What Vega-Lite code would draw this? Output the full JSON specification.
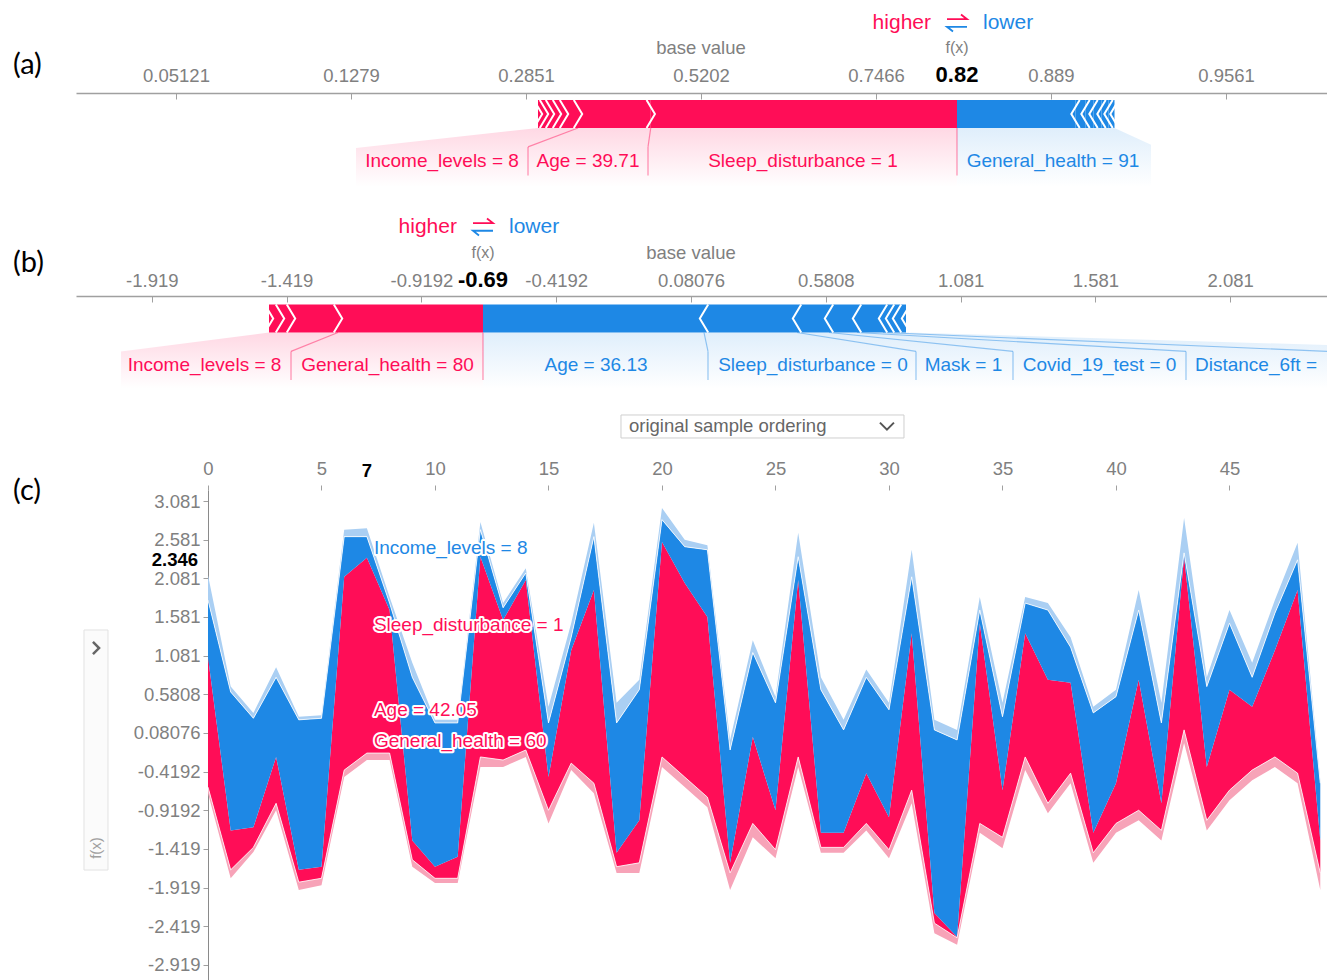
{
"$schema": "https://vega.github.io/schema/vega-lite/v6.json",
"background": "white",
"padding": {"left": 12, "top": 0, "right": 0, "bottom": 0},
"autosize": {"type": "pad"},
"bounds": "flush",
"spacing": 10,
"config": {
  "view": {"stroke": null},
  "font": "Liberation Sans",
  "axis": {"labelFont": "Liberation Sans", "labelColor": "#808080", "labelFontSize": 18.5, "domainColor": "#a0a0a0", "tickColor": "#a0a0a0", "grid": false}
},
"datasets": {
  "featA": [
    {"feature": "Sleep_disturbance = 1", "effect": "higher", "start": -0.2064, "end": 1.5436, "lx": 0.6636},
    {"feature": "Age = 39.71", "effect": "higher", "start": -0.6221, "end": -0.2064, "lx": -0.565},
    {"feature": "Income_levels = 8", "effect": "higher", "start": -0.7021, "end": -0.6221, "lx": -1.3993},
    {"feature": "other", "effect": "higher", "start": -0.7421, "end": -0.7021},
    {"feature": "other", "effect": "higher", "start": -0.7821, "end": -0.7421},
    {"feature": "other", "effect": "higher", "start": -0.8164, "end": -0.7821},
    {"feature": "other", "effect": "higher", "start": -0.8507, "end": -0.8164},
    {"feature": "General_health = 91", "effect": "lower", "start": 1.5436, "end": 2.2208, "lx": 2.0922},
    {"feature": "other", "effect": "lower", "start": 2.2208, "end": 2.2779},
    {"feature": "other", "effect": "lower", "start": 2.2779, "end": 2.3236},
    {"feature": "other", "effect": "lower", "start": 2.3236, "end": 2.3693},
    {"feature": "other", "effect": "lower", "start": 2.3693, "end": 2.4093},
    {"feature": "other", "effect": "lower", "start": 2.4093, "end": 2.4436}
  ],
  "sepA": [
    {"label_edge": -0.9078, "bar_edge": -0.6221, "effect": "higher"},
    {"label_edge": -0.2221, "bar_edge": -0.2064, "effect": "higher"},
    {"label_edge": 1.5436, "bar_edge": 1.5436, "effect": "higher"}
  ],
  "fadeA": [
    {"effect": "higher", "x": -1.8907, "top": -2.43},
    {"effect": "higher", "x": -0.8507, "top": -1},
    {"effect": "higher", "x": 1.5436, "top": -1},
    {"effect": "lower", "x": 1.5436, "top": -1},
    {"effect": "lower", "x": 2.4436, "top": -1},
    {"effect": "lower", "x": 2.6522, "top": -2.2}
  ],
  "sumA": [{"base": 0.08076, "fx": 1.5436, "fx_text": "0.82"}],
  "featB": [
    {"feature": "General_health = 80", "effect": "higher", "start": -1.2285, "end": -0.6908, "lx": -1.045},
    {"feature": "Income_levels = 8", "effect": "higher", "start": -1.4029, "end": -1.2285, "lx": -1.7237},
    {"feature": "other", "effect": "higher", "start": -1.4437, "end": -1.4029},
    {"feature": "other", "effect": "higher", "start": -1.4845, "end": -1.4437},
    {"feature": "Age = 36.13", "effect": "lower", "start": -0.6908, "end": 0.129, "lx": -0.2716},
    {"feature": "Sleep_disturbance = 0", "effect": "lower", "start": 0.129, "end": 0.474, "lx": 0.5333},
    {"feature": "Mask = 1", "effect": "lower", "start": 0.474, "end": 0.5926, "lx": 1.0915},
    {"feature": "Covid_19_test = 0", "effect": "lower", "start": 0.5926, "end": 0.6965, "lx": 1.596},
    {"feature": "Distance_6ft =", "effect": "lower", "start": 0.6965, "end": 0.7929, "lx": 2.1765},
    {"feature": "other", "effect": "lower", "start": 0.7929, "end": 0.8189},
    {"feature": "other", "effect": "lower", "start": 0.8189, "end": 0.8449},
    {"feature": "other", "effect": "lower", "start": 0.8449, "end": 0.8782}
  ],
  "sepB": [
    {"label_edge": -1.4029, "bar_edge": -1.2285, "effect": "higher"},
    {"label_edge": -0.6908, "bar_edge": -0.6908, "effect": "higher"},
    {"label_edge": 0.1438, "bar_edge": 0.129, "effect": "lower"},
    {"label_edge": 0.9153, "bar_edge": 0.474, "effect": "lower"},
    {"label_edge": 1.2751, "bar_edge": 0.5926, "effect": "lower"},
    {"label_edge": 1.9168, "bar_edge": 0.6965, "effect": "lower"},
    {"label_edge": 2.4435, "bar_edge": 0.7929, "effect": "lower"}
  ],
  "fadeB": [
    {"effect": "higher", "x": -2.0335, "top": -2.35},
    {"effect": "higher", "x": -1.4845, "top": -1},
    {"effect": "higher", "x": -0.6908, "top": -1},
    {"effect": "lower", "x": -0.6908, "top": -1},
    {"effect": "lower", "x": 0.8782, "top": -1},
    {"effect": "lower", "x": 2.4435, "top": -1.9}
  ],
  "sumB": [{"base": 0.08076, "fx": -0.6908, "fx_text": "-0.69"}],
  "stackC": [
    {"i":0,"lb":2.12,"b":1.80,"fx":1.06,"r":-0.62,"p":-0.70},
    {"i":1,"lb":0.68,"b":0.61,"fx":-1.18,"r":-1.69,"p":-1.80},
    {"i":2,"lb":0.34,"b":0.27,"fx":-1.14,"r":-1.40,"p":-1.46},
    {"i":3,"lb":0.93,"b":0.80,"fx":-0.23,"r":-0.83,"p":-0.92},
    {"i":4,"lb":0.29,"b":0.25,"fx":-1.69,"r":-1.85,"p":-1.95},
    {"i":5,"lb":0.31,"b":0.27,"fx":-1.65,"r":-1.80,"p":-1.89},
    {"i":6,"lb":2.71,"b":2.62,"fx":2.10,"r":-0.40,"p":-0.49},
    {"i":7,"lb":2.73,"b":2.62,"fx":2.346,"r":-0.18,"p":-0.27},
    {"i":8,"lb":1.84,"b":1.76,"fx":1.67,"r":-0.18,"p":-0.27},
    {"i":9,"lb":0.99,"b":0.80,"fx":-1.31,"r":-1.56,"p":-1.65},
    {"i":10,"lb":0.25,"b":0.21,"fx":-1.65,"r":-1.80,"p":-1.86},
    {"i":11,"lb":0.25,"b":0.21,"fx":-1.52,"r":-1.80,"p":-1.86},
    {"i":12,"lb":2.81,"b":2.71,"fx":2.36,"r":-0.23,"p":-0.36},
    {"i":13,"lb":1.76,"b":1.70,"fx":1.54,"r":-0.27,"p":-0.36},
    {"i":14,"lb":2.21,"b":2.15,"fx":2.06,"r":-0.14,"p":-0.23},
    {"i":15,"lb":0.42,"b":0.21,"fx":-0.49,"r":-0.92,"p":-1.09},
    {"i":16,"lb":1.50,"b":1.32,"fx":1.15,"r":-0.31,"p":-0.40},
    {"i":17,"lb":2.80,"b":2.62,"fx":1.93,"r":-0.57,"p":-0.70},
    {"i":18,"lb":0.47,"b":0.21,"fx":-1.47,"r":-1.65,"p":-1.73},
    {"i":19,"lb":0.77,"b":0.64,"fx":-1.05,"r":-1.60,"p":-1.73},
    {"i":20,"lb":2.99,"b":2.84,"fx":2.55,"r":-0.23,"p":-0.36},
    {"i":21,"lb":2.58,"b":2.49,"fx":2.02,"r":-0.49,"p":-0.62},
    {"i":22,"lb":2.51,"b":2.45,"fx":1.58,"r":-0.75,"p":-0.88},
    {"i":23,"lb":-0.01,"b":-0.14,"fx":-1.60,"r":-1.73,"p":-1.95},
    {"i":24,"lb":1.28,"b":1.12,"fx":0.03,"r":-1.09,"p":-1.27},
    {"i":25,"lb":0.55,"b":0.47,"fx":-0.92,"r":-1.43,"p":-1.54},
    {"i":26,"lb":2.67,"b":2.36,"fx":2.06,"r":-0.23,"p":-0.36},
    {"i":27,"lb":0.80,"b":0.64,"fx":-1.21,"r":-1.40,"p":-1.47},
    {"i":28,"lb":0.25,"b":0.12,"fx":-1.21,"r":-1.40,"p":-1.47},
    {"i":29,"lb":0.90,"b":0.80,"fx":-0.44,"r":-1.09,"p":-1.18},
    {"i":30,"lb":0.47,"b":0.38,"fx":-1.01,"r":-1.43,"p":-1.54},
    {"i":31,"lb":2.45,"b":2.10,"fx":1.37,"r":-0.66,"p":-0.83},
    {"i":32,"lb":0.25,"b":0.12,"fx":-2.25,"r":-2.38,"p":-2.51},
    {"i":33,"lb":0.12,"b":-0.01,"fx":-2.56,"r":-2.57,"p":-2.66},
    {"i":34,"lb":1.84,"b":1.67,"fx":1.50,"r":-1.09,"p":-1.21},
    {"i":35,"lb":0.47,"b":0.29,"fx":-0.66,"r":-1.27,"p":-1.41},
    {"i":36,"lb":1.84,"b":1.76,"fx":1.37,"r":-0.23,"p":-0.40},
    {"i":37,"lb":1.76,"b":1.67,"fx":0.77,"r":-0.83,"p":-0.96},
    {"i":38,"lb":1.32,"b":1.19,"fx":0.73,"r":-0.44,"p":-0.57},
    {"i":39,"lb":0.42,"b":0.34,"fx":-1.21,"r":-1.47,"p":-1.60},
    {"i":40,"lb":0.64,"b":0.55,"fx":-0.57,"r":-1.09,"p":-1.21},
    {"i":41,"lb":1.93,"b":1.67,"fx":0.77,"r":-0.92,"p":-1.05},
    {"i":42,"lb":0.47,"b":0.21,"fx":-0.83,"r":-1.18,"p":-1.31},
    {"i":43,"lb":2.86,"b":2.41,"fx":2.36,"r":0.12,"p":-0.05},
    {"i":44,"lb":0.80,"b":0.68,"fx":-0.36,"r":-1.05,"p":-1.18},
    {"i":45,"lb":1.67,"b":1.50,"fx":0.64,"r":-0.66,"p":-0.79},
    {"i":46,"lb":0.99,"b":0.80,"fx":0.42,"r":-0.40,"p":-0.53},
    {"i":47,"lb":1.80,"b":1.63,"fx":1.15,"r":-0.23,"p":-0.36},
    {"i":48,"lb":2.54,"b":2.32,"fx":1.93,"r":-0.44,"p":-0.57},
    {"i":49,"lb":-0.53,"b":-0.57,"fx":-1.31,"r":-1.73,"p":-1.95}
  ],
  "hoverC": [
    {"i": 7, "label": "Income_levels = 8", "y": 2.473, "effect": "lower"},
    {"i": 7, "label": "Sleep_disturbance = 1", "y": 1.477, "effect": "higher"},
    {"i": 7, "label": "Age = 42.05", "y": 0.377, "effect": "higher"},
    {"i": 7, "label": "General_health = 60", "y": -0.024, "effect": "higher"}
  ],
  "sumC": [{"i": 7, "fx": 2.346, "fx_text": "2.346"}]
},
"vconcat": [
  {
    "width": 1252, "height": 190,
    "resolve": {"axis": {"x": "independent", "y": "independent"}},
    "layer": [
      {"data": {"name": "fadeA"}, "transform": [{"filter": "datum.effect == 'higher'"}],
       "mark": {"type": "area", "color": {"gradient": "linear", "x1": 0, "y1": 0, "x2": 0, "y2": 1, "stops": [{"offset": 0, "color": "rgba(255,13,87,0.16)"}, {"offset": 1, "color": "rgba(255,13,87,0)"}]}},
       "encoding": {
         "x": {"field": "x", "type": "quantitative", "scale": {"domain": [-3.4907, 3.6636], "nice": false, "zero": false},
               "axis": {"orient": "top", "offset": -93, "title": null, "values": [-2.91924, -1.91924, -0.91924, 0.08076, 1.08076, 2.08076, 3.08076], "labelExpr": "format(1/(1+exp(-datum.value)), '.4~')", "tickSize": -6, "labelPadding": 14, "domainWidth": 1.5}},
         "y": {"field": "top", "type": "quantitative", "scale": {"domain": [-5.4286, 8.1429], "nice": false, "zero": false}, "axis": null},
         "y2": {"datum": -5.2}}},
      {"data": {"name": "fadeA"}, "transform": [{"filter": "datum.effect == 'lower'"}],
       "mark": {"type": "area", "color": {"gradient": "linear", "x1": 0, "y1": 0, "x2": 0, "y2": 1, "stops": [{"offset": 0, "color": "rgba(30,136,229,0.14)"}, {"offset": 1, "color": "rgba(30,136,229,0)"}]}},
       "encoding": {"x": {"field": "x", "type": "quantitative", "axis": null}, "y": {"field": "top", "type": "quantitative", "axis": null}, "y2": {"datum": -5.2}}},
      {"data": {"name": "sepA"}, "mark": {"type": "rule", "strokeWidth": 1.2, "opacity": 0.45},
       "encoding": {"x": {"field": "label_edge", "type": "quantitative", "axis": null}, "y": {"datum": -2.35, "axis": null}, "y2": {"datum": -4.4},
         "color": {"condition": {"test": "datum.effect == 'higher'", "value": "#ff0d57"}, "value": "#1e88e5"}}},
      {"data": {"name": "sepA"}, "mark": {"type": "rule", "strokeWidth": 1.2, "opacity": 0.45},
       "encoding": {"x": {"field": "label_edge", "type": "quantitative", "axis": null}, "x2": {"field": "bar_edge"}, "y": {"datum": -2.35, "axis": null}, "y2": {"datum": -1},
         "color": {"condition": {"test": "datum.effect == 'higher'", "value": "#ff0d57"}, "value": "#1e88e5"}}},
      {"data": {"name": "featA"}, "mark": {"type": "rect"},
       "encoding": {"x": {"field": "start", "type": "quantitative", "axis": null}, "x2": {"field": "end"}, "y": {"datum": 1, "axis": null}, "y2": {"datum": -1},
         "color": {"condition": {"test": "datum.effect == 'higher'", "value": "#ff0d57"}, "value": "#1e88e5"}}},
      {"data": {"name": "featA"}, "transform": [{"filter": "datum.effect == 'higher'"}],
       "mark": {"type": "point", "shape": "M-0.3,-1L0.3,0L-0.3,1", "size": 784, "filled": false, "color": "white", "strokeWidth": 2, "opacity": 1},
       "encoding": {"x": {"field": "start", "type": "quantitative", "axis": null}, "y": {"datum": 0, "axis": null}}},
      {"data": {"name": "featA"}, "transform": [{"filter": "datum.effect == 'lower'"}],
       "mark": {"type": "point", "shape": "M0.3,-1L-0.3,0L0.3,1", "size": 784, "filled": false, "color": "white", "strokeWidth": 2, "opacity": 1},
       "encoding": {"x": {"field": "end", "type": "quantitative", "axis": null}, "y": {"datum": 0, "axis": null}}},
      {"data": {"name": "featA"}, "transform": [{"filter": "datum.lx != null"}],
       "mark": {"type": "text", "fontSize": 19},
       "encoding": {"x": {"field": "lx", "type": "quantitative", "axis": null}, "y": {"datum": -3.36, "axis": null}, "text": {"field": "feature"},
         "color": {"condition": {"test": "datum.effect == 'higher'", "value": "#ff0d57"}, "value": "#1e88e5"}}},
      {"data": {"name": "sumA"}, "mark": {"type": "text", "fontSize": 18.5, "color": "#808080"},
       "encoding": {"x": {"field": "base", "type": "quantitative", "axis": null}, "y": {"datum": 4.71, "axis": null}, "text": {"value": "base value"}}},
      {"data": {"name": "sumA"}, "mark": {"type": "text", "fontSize": 16, "color": "#808080"},
       "encoding": {"x": {"field": "fx", "type": "quantitative", "axis": null}, "y": {"datum": 4.71, "axis": null}, "text": {"value": "f(x)"}}},
      {"data": {"name": "sumA"}, "mark": {"type": "text", "fontSize": 22, "fontWeight": "bold", "color": "#000000"},
       "encoding": {"x": {"field": "fx", "type": "quantitative", "axis": null}, "y": {"datum": 2.79, "axis": null}, "text": {"field": "fx_text"}}},
      {"data": {"name": "sumA"}, "mark": {"type": "text", "fontSize": 21, "color": "#ff0d57", "align": "right", "dx": -26},
       "encoding": {"x": {"field": "fx", "type": "quantitative", "axis": null}, "y": {"datum": 6.5, "axis": null}, "text": {"value": "higher"}}},
      {"data": {"name": "sumA"}, "mark": {"type": "text", "fontSize": 21, "color": "#1e88e5", "align": "left", "dx": 26},
       "encoding": {"x": {"field": "fx", "type": "quantitative", "axis": null}, "y": {"datum": 6.5, "axis": null}, "text": {"value": "lower"}}},
      {"data": {"name": "sumA"}, "mark": {"type": "point", "shape": "M-1,-0.38L1,-0.38L0.4,-0.85", "size": 400, "filled": false, "color": "#ff0d57", "strokeWidth": 1.8, "opacity": 1},
       "encoding": {"x": {"field": "fx", "type": "quantitative", "axis": null}, "y": {"datum": 6.5, "axis": null}}},
      {"data": {"name": "sumA"}, "mark": {"type": "point", "shape": "M1,0.38L-1,0.38L-0.4,0.85", "size": 400, "filled": false, "color": "#1e88e5", "strokeWidth": 1.8, "opacity": 1},
       "encoding": {"x": {"field": "fx", "type": "quantitative", "axis": null}, "y": {"datum": 6.5, "axis": null}}},
      {"data": {"values": [{"panel": "(a)"}]}, "mark": {"type": "text", "font": "Lato", "fontSize": 29, "align": "left", "color": "#000000"},
       "encoding": {"x": {"datum": -3.8507, "axis": null}, "y": {"datum": 3.5, "axis": null}, "text": {"field": "panel"}}}
    ]
  },
  {
    "width": 1252, "height": 280,
    "resolve": {"axis": {"x": "independent", "y": "independent"}},
    "layer": [
      {"data": {"name": "fadeB"}, "transform": [{"filter": "datum.effect == 'higher'"}],
       "mark": {"type": "area", "color": {"gradient": "linear", "x1": 0, "y1": 0, "x2": 0, "y2": 1, "stops": [{"offset": 0, "color": "rgba(255,13,87,0.16)"}, {"offset": 1, "color": "rgba(255,13,87,0)"}]}},
       "encoding": {
         "x": {"field": "x", "type": "quantitative", "scale": {"domain": [-2.2004, 2.4435], "nice": false, "zero": false},
               "axis": {"orient": "top", "offset": -96, "title": null, "values": [-1.91924, -1.41924, -0.91924, -0.41924, 0.08076, 0.58076, 1.08076, 1.58076, 2.08076], "labelExpr": "replace(format(datum.value, '.4~'), '\u2212', '-')", "tickSize": -6, "labelPadding": 12, "domainWidth": 1.5}},
         "y": {"field": "top", "type": "quantitative", "scale": {"domain": [-11.5357, 8.4643], "nice": false, "zero": false}, "axis": null},
         "y2": {"datum": -5.0}}},
      {"data": {"name": "fadeB"}, "transform": [{"filter": "datum.effect == 'lower'"}],
       "mark": {"type": "area", "color": {"gradient": "linear", "x1": 0, "y1": 0, "x2": 0, "y2": 1, "stops": [{"offset": 0, "color": "rgba(30,136,229,0.14)"}, {"offset": 1, "color": "rgba(30,136,229,0)"}]}},
       "encoding": {"x": {"field": "x", "type": "quantitative", "axis": null}, "y": {"field": "top", "type": "quantitative", "axis": null}, "y2": {"datum": -5.0}}},
      {"data": {"name": "sepB"}, "mark": {"type": "rule", "strokeWidth": 1.2, "opacity": 0.45},
       "encoding": {"x": {"field": "label_edge", "type": "quantitative", "axis": null}, "y": {"datum": -2.35, "axis": null}, "y2": {"datum": -4.4},
         "color": {"condition": {"test": "datum.effect == 'higher'", "value": "#ff0d57"}, "value": "#1e88e5"}}},
      {"data": {"name": "sepB"}, "mark": {"type": "rule", "strokeWidth": 1.2, "opacity": 0.45},
       "encoding": {"x": {"field": "label_edge", "type": "quantitative", "axis": null}, "x2": {"field": "bar_edge"}, "y": {"datum": -2.35, "axis": null}, "y2": {"datum": -1},
         "color": {"condition": {"test": "datum.effect == 'higher'", "value": "#ff0d57"}, "value": "#1e88e5"}}},
      {"data": {"name": "featB"}, "mark": {"type": "rect"},
       "encoding": {"x": {"field": "start", "type": "quantitative", "axis": null}, "x2": {"field": "end"}, "y": {"datum": 1, "axis": null}, "y2": {"datum": -1},
         "color": {"condition": {"test": "datum.effect == 'higher'", "value": "#ff0d57"}, "value": "#1e88e5"}}},
      {"data": {"name": "featB"}, "transform": [{"filter": "datum.effect == 'higher'"}],
       "mark": {"type": "point", "shape": "M-0.3,-1L0.3,0L-0.3,1", "size": 784, "filled": false, "color": "white", "strokeWidth": 2, "opacity": 1},
       "encoding": {"x": {"field": "start", "type": "quantitative", "axis": null}, "y": {"datum": 0, "axis": null}}},
      {"data": {"name": "featB"}, "transform": [{"filter": "datum.effect == 'lower'"}],
       "mark": {"type": "point", "shape": "M0.3,-1L-0.3,0L0.3,1", "size": 784, "filled": false, "color": "white", "strokeWidth": 2, "opacity": 1},
       "encoding": {"x": {"field": "end", "type": "quantitative", "axis": null}, "y": {"datum": 0, "axis": null}}},
      {"data": {"name": "featB"}, "transform": [{"filter": "datum.lx != null"}],
       "mark": {"type": "text", "fontSize": 19},
       "encoding": {"x": {"field": "lx", "type": "quantitative", "axis": null}, "y": {"datum": -3.32, "axis": null}, "text": {"field": "feature"},
         "color": {"condition": {"test": "datum.effect == 'higher'", "value": "#ff0d57"}, "value": "#1e88e5"}}},
      {"data": {"name": "sumB"}, "mark": {"type": "text", "fontSize": 18.5, "color": "#808080"},
       "encoding": {"x": {"field": "base", "type": "quantitative", "axis": null}, "y": {"datum": 4.68, "axis": null}, "text": {"value": "base value"}}},
      {"data": {"name": "sumB"}, "mark": {"type": "text", "fontSize": 16, "color": "#808080"},
       "encoding": {"x": {"field": "fx", "type": "quantitative", "axis": null}, "y": {"datum": 4.68, "axis": null}, "text": {"value": "f(x)"}}},
      {"data": {"name": "sumB"}, "mark": {"type": "text", "fontSize": 22, "fontWeight": "bold", "color": "#000000"},
       "encoding": {"x": {"field": "fx", "type": "quantitative", "axis": null}, "y": {"datum": 2.75, "axis": null}, "text": {"field": "fx_text"}}},
      {"data": {"name": "sumB"}, "mark": {"type": "text", "fontSize": 21, "color": "#ff0d57", "align": "right", "dx": -26},
       "encoding": {"x": {"field": "fx", "type": "quantitative", "axis": null}, "y": {"datum": 6.54, "axis": null}, "text": {"value": "higher"}}},
      {"data": {"name": "sumB"}, "mark": {"type": "text", "fontSize": 21, "color": "#1e88e5", "align": "left", "dx": 26},
       "encoding": {"x": {"field": "fx", "type": "quantitative", "axis": null}, "y": {"datum": 6.54, "axis": null}, "text": {"value": "lower"}}},
      {"data": {"name": "sumB"}, "mark": {"type": "point", "shape": "M-1,-0.38L1,-0.38L0.4,-0.85", "size": 400, "filled": false, "color": "#ff0d57", "strokeWidth": 1.8, "opacity": 1},
       "encoding": {"x": {"field": "fx", "type": "quantitative", "axis": null}, "y": {"datum": 6.54, "axis": null}}},
      {"data": {"name": "sumB"}, "mark": {"type": "point", "shape": "M1,0.38L-1,0.38L-0.4,0.85", "size": 400, "filled": false, "color": "#1e88e5", "strokeWidth": 1.8, "opacity": 1},
       "encoding": {"x": {"field": "fx", "type": "quantitative", "axis": null}, "y": {"datum": 6.54, "axis": null}}},
      {"data": {"values": [{"panel": "(b)"}]}, "mark": {"type": "text", "font": "Lato", "fontSize": 29, "align": "left", "color": "#000000"},
       "encoding": {"x": {"datum": -2.4341, "axis": null}, "y": {"datum": 3.96, "axis": null}, "text": {"field": "panel"}}}
    ]
  },
  {
    "width": 1252, "height": 490,
    "resolve": {"axis": {"x": "independent", "y": "independent"}},
    "layer": [
      {"data": {"name": "stackC"}, "mark": {"type": "area", "color": "#f7a3b8"},
       "encoding": {
         "x": {"field": "i", "type": "quantitative", "scale": {"domain": [-5.815, 49.34], "nice": false, "zero": false},
               "axis": {"orient": "top", "title": null, "values": [0, 5, 10, 15, 20, 25, 30, 35, 40, 45], "format": "d", "domain": false, "tickSize": 5, "labelPadding": 7}},
         "y": {"field": "p", "type": "quantitative", "scale": {"domain": [-3.1156, 3.2233], "nice": false, "zero": false},
               "axis": {"orient": "left", "offset": -132, "title": null, "values": [3.08076, 2.58076, 2.08076, 1.58076, 1.08076, 0.58076, 0.08076, -0.41924, -0.91924, -1.41924, -1.91924, -2.41924, -2.91924], "labelExpr": "replace(format(datum.value, '.4~'), '\u2212', '-')", "tickSize": 5, "labelPadding": 3, "domainColor": "#8a8a8a"}},
         "y2": {"field": "r"}}},
      {"data": {"name": "stackC"}, "mark": {"type": "area", "color": "#ff0d57"},
       "encoding": {"x": {"field": "i", "type": "quantitative", "axis": null}, "y": {"field": "r", "type": "quantitative", "axis": null}, "y2": {"field": "fx"}}},
      {"data": {"name": "stackC"}, "mark": {"type": "area", "color": "#1e88e5"},
       "encoding": {"x": {"field": "i", "type": "quantitative", "axis": null}, "y": {"field": "fx", "type": "quantitative", "axis": null}, "y2": {"field": "b"}}},
      {"data": {"name": "stackC"}, "mark": {"type": "area", "color": "#aacff3"},
       "encoding": {"x": {"field": "i", "type": "quantitative", "axis": null}, "y": {"field": "b", "type": "quantitative", "axis": null}, "y2": {"field": "lb"}}},
      {"data": {"name": "stackC"}, "mark": {"type": "line", "color": "white", "strokeWidth": 1, "opacity": 0.8},
       "encoding": {"x": {"field": "i", "type": "quantitative", "axis": null}, "y": {"field": "r", "type": "quantitative", "axis": null}}},
      {"data": {"name": "stackC"}, "mark": {"type": "line", "color": "white", "strokeWidth": 1, "opacity": 0.8},
       "encoding": {"x": {"field": "i", "type": "quantitative", "axis": null}, "y": {"field": "b", "type": "quantitative", "axis": null}}},
      {"data": {"name": "hoverC"},
       "mark": {"type": "text", "align": "left", "dx": 7, "fontSize": 19, "fill": "white", "stroke": "white", "strokeWidth": 4, "strokeJoin": "round"},
       "encoding": {"x": {"field": "i", "type": "quantitative", "axis": null}, "y": {"field": "y", "type": "quantitative", "axis": null}, "text": {"field": "label"}}},
      {"data": {"name": "hoverC"},
       "mark": {"type": "text", "align": "left", "dx": 7, "fontSize": 19},
       "encoding": {"x": {"field": "i", "type": "quantitative", "axis": null}, "y": {"field": "y", "type": "quantitative", "axis": null}, "text": {"field": "label"},
         "color": {"condition": {"test": "datum.effect == 'higher'", "value": "#ff0d57"}, "value": "#1e88e5"}}},
      {"data": {"name": "sumC"},
       "mark": {"type": "text", "align": "right", "dx": -10, "dy": 2, "fontSize": 18.5, "fontWeight": "bold", "color": "#000000"},
       "encoding": {"x": {"datum": 0, "axis": null}, "y": {"field": "fx", "type": "quantitative", "axis": null}, "text": {"field": "fx_text"}}},
      {"data": {"name": "sumC"},
       "mark": {"type": "text", "fontSize": 18.5, "fontWeight": "bold", "color": "#000000", "dy": -19},
       "encoding": {"x": {"field": "i", "type": "quantitative", "axis": null}, "y": {"datum": 3.2233, "axis": null}, "text": {"field": "i", "type": "quantitative"}}},
      {"data": {"values": [{"ui": "sidebar"}]},
       "mark": {"type": "rect", "fill": "#fbfbfb", "stroke": "#e2e2e2", "strokeWidth": 1},
       "encoding": {"x": {"datum": -5.4626, "axis": null}, "x2": {"datum": -4.4053}, "y": {"datum": 1.4122, "axis": null}, "y2": {"datum": -1.6926}}},
      {"data": {"values": [{"ui": "sidebar"}]},
       "mark": {"type": "point", "shape": "M-0.5,-1L0.5,0L-0.5,1", "size": 150, "filled": false, "color": "#666666", "strokeWidth": 2.5, "opacity": 1},
       "encoding": {"x": {"datum": -4.934, "axis": null}, "y": {"datum": 1.179, "axis": null}}},
      {"data": {"values": [{"ui": "sidebar"}]},
       "mark": {"type": "text", "angle": 270, "fontSize": 15, "color": "#a0a0a0"},
       "encoding": {"x": {"datum": -4.934, "axis": null}, "y": {"datum": -1.408, "axis": null}, "text": {"value": "f(x)"}}},
      {"data": {"values": [{"ui": "ordering"}]},
       "mark": {"type": "rect", "fill": "white", "stroke": "#cfcfcf", "strokeWidth": 1},
       "encoding": {"x": {"datum": 18.194, "axis": null}, "x2": {"datum": 30.661}, "y": {"datum": 4.1936, "axis": null}, "y2": {"datum": 3.896}}},
      {"data": {"values": [{"ui": "ordering"}]},
       "mark": {"type": "text", "align": "left", "fontSize": 18.5, "color": "#666666"},
       "encoding": {"x": {"datum": 18.546, "axis": null}, "y": {"datum": 4.045, "axis": null}, "text": {"value": "original sample ordering"}}},
      {"data": {"values": [{"ui": "ordering"}]},
       "mark": {"type": "point", "shape": "M-1,-0.5L0,0.5L1,-0.5", "size": 196, "filled": false, "color": "#555555", "strokeWidth": 2, "opacity": 1},
       "encoding": {"x": {"datum": 29.91, "axis": null}, "y": {"datum": 4.05, "axis": null}}},
      {"data": {"values": [{"panel": "(c)"}]}, "mark": {"type": "text", "font": "Lato", "fontSize": 29, "align": "left", "color": "#000000"},
       "encoding": {"x": {"datum": -8.59, "axis": null}, "y": {"datum": 3.2104, "axis": null}, "text": {"field": "panel"}}}
    ]
  }
]
}
